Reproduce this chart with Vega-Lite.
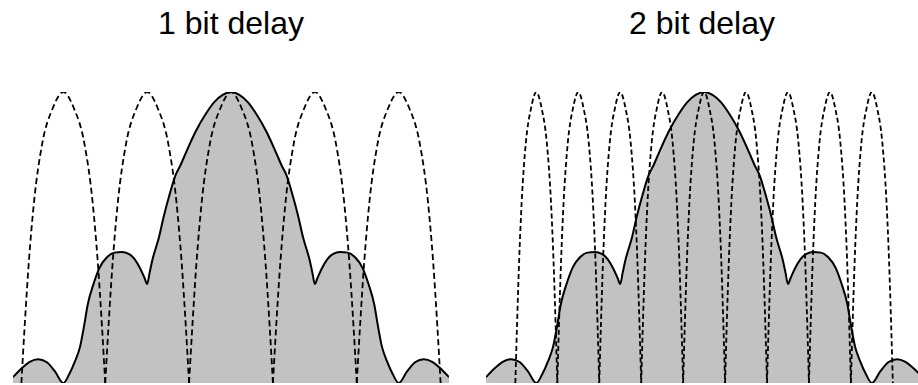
{
  "$schema": "https://vega.github.io/schema/vega-lite/v6.json",
  "padding": {"left": 13, "top": 8, "right": 0, "bottom": 0},
  "spacing": 37,
  "bounds": "flush",
  "background": "white",
  "config": {
    "view": {"stroke": null},
    "title": {"font": "Liberation Sans", "fontSize": 32, "fontWeight": "normal", "color": "#000", "baseline": "alphabetic", "offset": 51, "anchor": "middle", "frame": "group"}
  },
  "datasets": {
    "spec": [
      {"x": -2.6, "y": 0.02}, {"x": -2.5, "y": 0.05}, {"x": -2.4, "y": 0.073}, {"x": -2.3, "y": 0.082}, {"x": -2.2, "y": 0.072}, {"x": -2.1, "y": 0.04}, {"x": -2.0, "y": 0.0},
      {"x": -1.93, "y": 0.03}, {"x": -1.86, "y": 0.075}, {"x": -1.8, "y": 0.125}, {"x": -1.75, "y": 0.2}, {"x": -1.71, "y": 0.268}, {"x": -1.64, "y": 0.34}, {"x": -1.57, "y": 0.395},
      {"x": -1.48, "y": 0.432}, {"x": -1.39, "y": 0.448}, {"x": -1.3, "y": 0.45}, {"x": -1.22, "y": 0.444}, {"x": -1.15, "y": 0.426}, {"x": -1.08, "y": 0.392}, {"x": -1.03, "y": 0.36}, {"x": -1.0, "y": 0.34},
      {"x": -0.97, "y": 0.38}, {"x": -0.94, "y": 0.42}, {"x": -0.86, "y": 0.5}, {"x": -0.8, "y": 0.575}, {"x": -0.74, "y": 0.64}, {"x": -0.66, "y": 0.715}, {"x": -0.6, "y": 0.75}, {"x": -0.54, "y": 0.79},
      {"x": -0.42, "y": 0.865}, {"x": -0.3, "y": 0.925}, {"x": -0.2, "y": 0.965}, {"x": -0.1, "y": 0.99}, {"x": 0, "y": 1.0},
      {"x": 0.1, "y": 0.99}, {"x": 0.2, "y": 0.965}, {"x": 0.3, "y": 0.925}, {"x": 0.42, "y": 0.865}, {"x": 0.54, "y": 0.79}, {"x": 0.6, "y": 0.75}, {"x": 0.66, "y": 0.715}, {"x": 0.74, "y": 0.64},
      {"x": 0.8, "y": 0.575}, {"x": 0.86, "y": 0.5}, {"x": 0.94, "y": 0.42}, {"x": 0.97, "y": 0.38}, {"x": 1.0, "y": 0.34}, {"x": 1.03, "y": 0.36}, {"x": 1.08, "y": 0.392}, {"x": 1.15, "y": 0.426},
      {"x": 1.22, "y": 0.444}, {"x": 1.3, "y": 0.45}, {"x": 1.39, "y": 0.448}, {"x": 1.48, "y": 0.432}, {"x": 1.57, "y": 0.395}, {"x": 1.64, "y": 0.34}, {"x": 1.71, "y": 0.268}, {"x": 1.75, "y": 0.2},
      {"x": 1.8, "y": 0.125}, {"x": 1.86, "y": 0.075}, {"x": 1.93, "y": 0.03}, {"x": 2.0, "y": 0.0}, {"x": 2.1, "y": 0.04}, {"x": 2.2, "y": 0.072}, {"x": 2.3, "y": 0.082}, {"x": 2.4, "y": 0.073},
      {"x": 2.5, "y": 0.05}, {"x": 2.6, "y": 0.02}
    ],
    "d1": [
      {"a": 1, "x": -2.5, "y": 0}, {"a": 1, "x": -2.46, "y": 0.2}, {"a": 1, "x": -2.41, "y": 0.42}, {"a": 1, "x": -2.35, "y": 0.62}, {"a": 1, "x": -2.25, "y": 0.825}, {"a": 1, "x": -2.125, "y": 0.945}, {"a": 1, "x": -2, "y": 1}, {"a": 1, "x": -1.875, "y": 0.945}, {"a": 1, "x": -1.75, "y": 0.825}, {"a": 1, "x": -1.65, "y": 0.62}, {"a": 1, "x": -1.59, "y": 0.42}, {"a": 1, "x": -1.54, "y": 0.2}, {"a": 1, "x": -1.5, "y": 0},
      {"a": 2, "x": -1.5, "y": 0}, {"a": 2, "x": -1.46, "y": 0.2}, {"a": 2, "x": -1.41, "y": 0.42}, {"a": 2, "x": -1.35, "y": 0.62}, {"a": 2, "x": -1.25, "y": 0.825}, {"a": 2, "x": -1.125, "y": 0.945}, {"a": 2, "x": -1, "y": 1}, {"a": 2, "x": -0.875, "y": 0.945}, {"a": 2, "x": -0.75, "y": 0.825}, {"a": 2, "x": -0.65, "y": 0.62}, {"a": 2, "x": -0.59, "y": 0.42}, {"a": 2, "x": -0.54, "y": 0.2}, {"a": 2, "x": -0.5, "y": 0},
      {"a": 3, "x": -0.5, "y": 0}, {"a": 3, "x": -0.46, "y": 0.2}, {"a": 3, "x": -0.41, "y": 0.42}, {"a": 3, "x": -0.35, "y": 0.62}, {"a": 3, "x": -0.25, "y": 0.825}, {"a": 3, "x": -0.125, "y": 0.945}, {"a": 3, "x": 0, "y": 1}, {"a": 3, "x": 0.125, "y": 0.945}, {"a": 3, "x": 0.25, "y": 0.825}, {"a": 3, "x": 0.35, "y": 0.62}, {"a": 3, "x": 0.41, "y": 0.42}, {"a": 3, "x": 0.46, "y": 0.2}, {"a": 3, "x": 0.5, "y": 0},
      {"a": 4, "x": 0.5, "y": 0}, {"a": 4, "x": 0.54, "y": 0.2}, {"a": 4, "x": 0.59, "y": 0.42}, {"a": 4, "x": 0.65, "y": 0.62}, {"a": 4, "x": 0.75, "y": 0.825}, {"a": 4, "x": 0.875, "y": 0.945}, {"a": 4, "x": 1, "y": 1}, {"a": 4, "x": 1.125, "y": 0.945}, {"a": 4, "x": 1.25, "y": 0.825}, {"a": 4, "x": 1.35, "y": 0.62}, {"a": 4, "x": 1.41, "y": 0.42}, {"a": 4, "x": 1.46, "y": 0.2}, {"a": 4, "x": 1.5, "y": 0},
      {"a": 5, "x": 1.5, "y": 0}, {"a": 5, "x": 1.54, "y": 0.2}, {"a": 5, "x": 1.59, "y": 0.42}, {"a": 5, "x": 1.65, "y": 0.62}, {"a": 5, "x": 1.75, "y": 0.825}, {"a": 5, "x": 1.875, "y": 0.945}, {"a": 5, "x": 2, "y": 1}, {"a": 5, "x": 2.125, "y": 0.945}, {"a": 5, "x": 2.25, "y": 0.825}, {"a": 5, "x": 2.35, "y": 0.62}, {"a": 5, "x": 2.41, "y": 0.42}, {"a": 5, "x": 2.46, "y": 0.2}, {"a": 5, "x": 2.5, "y": 0}
    ],
    "d2": [
      {"a": 1, "x": -2.25, "y": 0}, {"a": 1, "x": -2.23, "y": 0.2}, {"a": 1, "x": -2.205, "y": 0.42}, {"a": 1, "x": -2.175, "y": 0.62}, {"a": 1, "x": -2.125, "y": 0.825}, {"a": 1, "x": -2.0625, "y": 0.945}, {"a": 1, "x": -2, "y": 1}, {"a": 1, "x": -1.9375, "y": 0.945}, {"a": 1, "x": -1.875, "y": 0.825}, {"a": 1, "x": -1.825, "y": 0.62}, {"a": 1, "x": -1.795, "y": 0.42}, {"a": 1, "x": -1.77, "y": 0.2}, {"a": 1, "x": -1.75, "y": 0},
      {"a": 2, "x": -1.75, "y": 0}, {"a": 2, "x": -1.73, "y": 0.2}, {"a": 2, "x": -1.705, "y": 0.42}, {"a": 2, "x": -1.675, "y": 0.62}, {"a": 2, "x": -1.625, "y": 0.825}, {"a": 2, "x": -1.5625, "y": 0.945}, {"a": 2, "x": -1.5, "y": 1}, {"a": 2, "x": -1.4375, "y": 0.945}, {"a": 2, "x": -1.375, "y": 0.825}, {"a": 2, "x": -1.325, "y": 0.62}, {"a": 2, "x": -1.295, "y": 0.42}, {"a": 2, "x": -1.27, "y": 0.2}, {"a": 2, "x": -1.25, "y": 0},
      {"a": 3, "x": -1.25, "y": 0}, {"a": 3, "x": -1.23, "y": 0.2}, {"a": 3, "x": -1.205, "y": 0.42}, {"a": 3, "x": -1.175, "y": 0.62}, {"a": 3, "x": -1.125, "y": 0.825}, {"a": 3, "x": -1.0625, "y": 0.945}, {"a": 3, "x": -1, "y": 1}, {"a": 3, "x": -0.9375, "y": 0.945}, {"a": 3, "x": -0.875, "y": 0.825}, {"a": 3, "x": -0.825, "y": 0.62}, {"a": 3, "x": -0.795, "y": 0.42}, {"a": 3, "x": -0.77, "y": 0.2}, {"a": 3, "x": -0.75, "y": 0},
      {"a": 4, "x": -0.75, "y": 0}, {"a": 4, "x": -0.73, "y": 0.2}, {"a": 4, "x": -0.705, "y": 0.42}, {"a": 4, "x": -0.675, "y": 0.62}, {"a": 4, "x": -0.625, "y": 0.825}, {"a": 4, "x": -0.5625, "y": 0.945}, {"a": 4, "x": -0.5, "y": 1}, {"a": 4, "x": -0.4375, "y": 0.945}, {"a": 4, "x": -0.375, "y": 0.825}, {"a": 4, "x": -0.325, "y": 0.62}, {"a": 4, "x": -0.295, "y": 0.42}, {"a": 4, "x": -0.27, "y": 0.2}, {"a": 4, "x": -0.25, "y": 0},
      {"a": 5, "x": -0.25, "y": 0}, {"a": 5, "x": -0.23, "y": 0.2}, {"a": 5, "x": -0.205, "y": 0.42}, {"a": 5, "x": -0.175, "y": 0.62}, {"a": 5, "x": -0.125, "y": 0.825}, {"a": 5, "x": -0.0625, "y": 0.945}, {"a": 5, "x": 0, "y": 1}, {"a": 5, "x": 0.0625, "y": 0.945}, {"a": 5, "x": 0.125, "y": 0.825}, {"a": 5, "x": 0.175, "y": 0.62}, {"a": 5, "x": 0.205, "y": 0.42}, {"a": 5, "x": 0.23, "y": 0.2}, {"a": 5, "x": 0.25, "y": 0},
      {"a": 6, "x": 0.25, "y": 0}, {"a": 6, "x": 0.27, "y": 0.2}, {"a": 6, "x": 0.295, "y": 0.42}, {"a": 6, "x": 0.325, "y": 0.62}, {"a": 6, "x": 0.375, "y": 0.825}, {"a": 6, "x": 0.4375, "y": 0.945}, {"a": 6, "x": 0.5, "y": 1}, {"a": 6, "x": 0.5625, "y": 0.945}, {"a": 6, "x": 0.625, "y": 0.825}, {"a": 6, "x": 0.675, "y": 0.62}, {"a": 6, "x": 0.705, "y": 0.42}, {"a": 6, "x": 0.73, "y": 0.2}, {"a": 6, "x": 0.75, "y": 0},
      {"a": 7, "x": 0.75, "y": 0}, {"a": 7, "x": 0.77, "y": 0.2}, {"a": 7, "x": 0.795, "y": 0.42}, {"a": 7, "x": 0.825, "y": 0.62}, {"a": 7, "x": 0.875, "y": 0.825}, {"a": 7, "x": 0.9375, "y": 0.945}, {"a": 7, "x": 1, "y": 1}, {"a": 7, "x": 1.0625, "y": 0.945}, {"a": 7, "x": 1.125, "y": 0.825}, {"a": 7, "x": 1.175, "y": 0.62}, {"a": 7, "x": 1.205, "y": 0.42}, {"a": 7, "x": 1.23, "y": 0.2}, {"a": 7, "x": 1.25, "y": 0},
      {"a": 8, "x": 1.25, "y": 0}, {"a": 8, "x": 1.27, "y": 0.2}, {"a": 8, "x": 1.295, "y": 0.42}, {"a": 8, "x": 1.325, "y": 0.62}, {"a": 8, "x": 1.375, "y": 0.825}, {"a": 8, "x": 1.4375, "y": 0.945}, {"a": 8, "x": 1.5, "y": 1}, {"a": 8, "x": 1.5625, "y": 0.945}, {"a": 8, "x": 1.625, "y": 0.825}, {"a": 8, "x": 1.675, "y": 0.62}, {"a": 8, "x": 1.705, "y": 0.42}, {"a": 8, "x": 1.73, "y": 0.2}, {"a": 8, "x": 1.75, "y": 0},
      {"a": 9, "x": 1.75, "y": 0}, {"a": 9, "x": 1.77, "y": 0.2}, {"a": 9, "x": 1.795, "y": 0.42}, {"a": 9, "x": 1.825, "y": 0.62}, {"a": 9, "x": 1.875, "y": 0.825}, {"a": 9, "x": 1.9375, "y": 0.945}, {"a": 9, "x": 2, "y": 1}, {"a": 9, "x": 2.0625, "y": 0.945}, {"a": 9, "x": 2.125, "y": 0.825}, {"a": 9, "x": 2.175, "y": 0.62}, {"a": 9, "x": 2.205, "y": 0.42}, {"a": 9, "x": 2.23, "y": 0.2}, {"a": 9, "x": 2.25, "y": 0}
    ]
  },
  "hconcat": [
    {
      "title": "1 bit delay",
      "width": 436,
      "height": 291,
      "encoding": {
        "x": {"field": "x", "type": "quantitative", "scale": {"domain": [-2.6, 2.6], "nice": false, "zero": false}, "axis": null},
        "y": {"field": "y", "type": "quantitative", "scale": {"domain": [0, 1], "nice": false}, "axis": null}
      },
      "layer": [
        {"data": {"name": "spec"}, "mark": {"type": "area", "interpolate": "monotone", "fill": "#c2c2c2", "stroke": null, "opacity": 1, "clip": true}},
        {"data": {"name": "d1"}, "mark": {"type": "line", "interpolate": "monotone", "stroke": "#000", "strokeWidth": 1.8, "strokeDash": [6, 3.5], "clip": true}, "encoding": {"detail": {"field": "a", "type": "nominal"}}},
        {"data": {"name": "spec"}, "mark": {"type": "line", "interpolate": "monotone", "stroke": "#000", "strokeWidth": 2, "clip": true}}
      ]
    },
    {
      "title": "2 bit delay",
      "width": 432,
      "height": 291,
      "encoding": {
        "x": {"field": "x", "type": "quantitative", "scale": {"domain": [-2.6, 2.55], "nice": false, "zero": false}, "axis": null},
        "y": {"field": "y", "type": "quantitative", "scale": {"domain": [0, 1], "nice": false}, "axis": null}
      },
      "layer": [
        {"data": {"name": "spec"}, "mark": {"type": "area", "interpolate": "monotone", "fill": "#c2c2c2", "stroke": null, "opacity": 1, "clip": true}},
        {"data": {"name": "d2"}, "mark": {"type": "line", "interpolate": "monotone", "stroke": "#000", "strokeWidth": 1.8, "strokeDash": [5, 3], "clip": true}, "encoding": {"detail": {"field": "a", "type": "nominal"}}},
        {"data": {"name": "spec"}, "mark": {"type": "line", "interpolate": "monotone", "stroke": "#000", "strokeWidth": 2, "clip": true}}
      ]
    }
  ]
}
